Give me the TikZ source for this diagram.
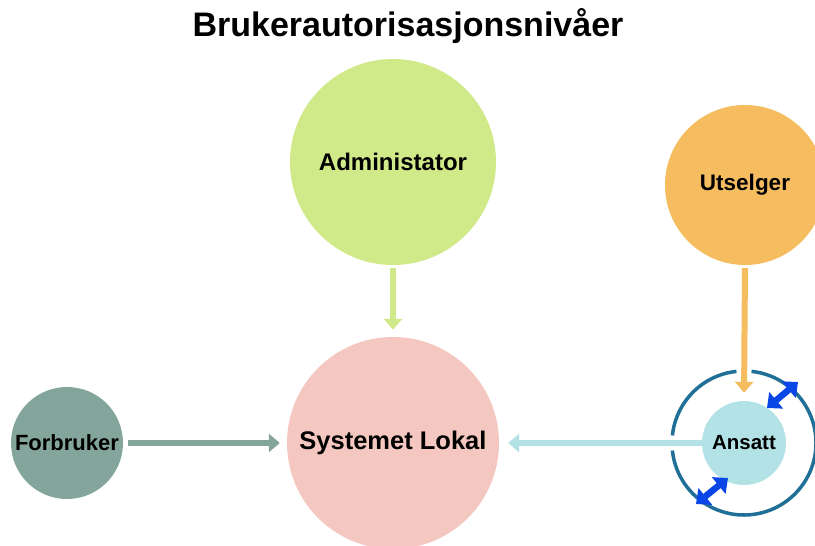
\documentclass[tikz,border=0pt]{standalone}
\usepackage{fontspec}
\setmainfont{Liberation Sans}
\usetikzlibrary{arrows.meta}
\definecolor{adminc}{HTML}{D0EA8A}
\definecolor{utselc}{HTML}{F5BD60}
\definecolor{systc}{HTML}{F4C8C0}
\definecolor{forbc}{HTML}{84A59B}
\definecolor{ansc}{HTML}{B2E2E6}
\definecolor{ringc}{HTML}{1F6F97}
\definecolor{bluec}{HTML}{0A46E6}
\tikzset{
  role/.style={circle, inner sep=0pt, font=\bfseries},
  flow/.style={line width=6pt, -{Triangle[width=18pt,length=11pt]}},
  swap/.style={line width=6.5pt, color=bluec, {Triangle[width=21pt,length=12pt]}-{Triangle[width=21pt,length=12pt]}},
}
\begin{document}
\begin{tikzpicture}[x=1pt,y=-1pt]
\useasboundingbox (0,0) rectangle (815,546);
% title
\node[font=\bfseries\fontsize{34}{38}\selectfont] (title) at (408,26) {Brukerautorisasjonsnivåer};
% roles
\node[role, fill=adminc, minimum size=206pt, font=\bfseries\fontsize{24}{28}\selectfont] (admin) at (393,162) {Administator};
\node[role, fill=utselc, minimum size=160pt, font=\bfseries\fontsize{22.5}{26}\selectfont] (utsel) at (745,185) {Utselger};
\node[role, fill=systc, minimum size=212pt, font=\bfseries\fontsize{25.5}{30}\selectfont] (syst) at (393,443) {Systemet Lokal};
\node[role, fill=forbc, minimum size=112pt, font=\bfseries\fontsize{22}{26}\selectfont] (forb) at (67,443) {Forbruker};
\node[role, fill=ansc, minimum size=84pt, font=\bfseries\fontsize{20.5}{24}\selectfont] (ans) at (744,443) {Ansatt};
% ring round Ansatt, open where the arrows pass
\draw[ringc, line width=3.5pt] (744,443) ++(96:72pt) arc[start angle=96, end angle=174, radius=72pt];
\draw[ringc, line width=3.5pt] (744,443) ++(186:72pt) arc[start angle=186, end angle=444, radius=72pt];
% flows
\draw[flow, adminc, shorten <=3pt, shorten >=7pt] (admin.south) -- (syst.north);
\draw[flow, forbc, shorten <=5pt, shorten >=7pt] (forb.east) -- (syst.west);
\draw[flow, ansc, shorten <=-4pt, shorten >=9pt] (ans.west) -- (syst.east);
\draw[flow, utselc, shorten <=3pt, shorten >=8pt] (utsel.south) -- (ans.north);
% exchange arrows
\coordinate (ua) at (767,408);
\coordinate (ub) at (798,382);
\coordinate (la) at (696,504);
\coordinate (lb) at (728,478);
\draw[swap] (ua) -- (ub);
\draw[swap] (la) -- (lb);
\end{tikzpicture}
\end{document}
